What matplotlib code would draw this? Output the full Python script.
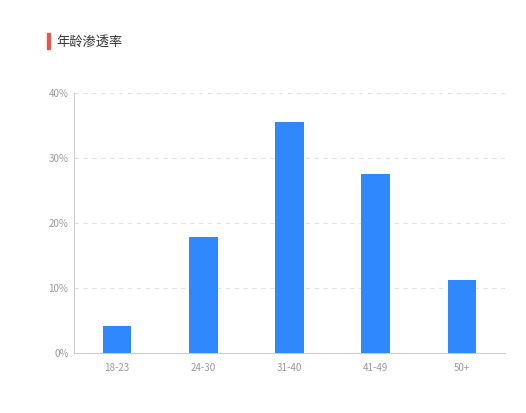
import matplotlib.pyplot as plt
import numpy as np

plt.rcParams['font.family'] = ['Noto Sans CJK SC', 'DejaVu Sans']

# age groups and penetration rate (%)
ages = ['18-23', '24-30', '31-40', '41-49', '50+']
rates = [4.1, 17.9, 35.6, 27.6, 11.3]
yticks = [0, 10, 20, 30, 40]

fig = plt.figure(figsize=(5.26, 4.13), dpi=100)
ax = fig.add_axes([0.1407, 0.1453, 0.8193, 0.6295])

x = np.arange(len(ages))
ax.bar(x, rates, width=0.33, color='#2f89fc', zorder=3)

ax.set_xlim(-0.5, len(ages) - 0.5)
ax.set_ylim(0, 40)
ax.set_xticks(x)
ax.set_xticklabels(ages)
ax.set_yticks(yticks)
ax.set_yticklabels([f'{v}%' for v in yticks])
ax.tick_params(axis='both', length=0, labelsize=7, colors='#999999')
ax.tick_params(axis='x', pad=7)
ax.tick_params(axis='y', pad=4)

for v in yticks[1:]:
    ax.axhline(v, color='#e3e3e3', linestyle=(0, (4, 4)), linewidth=0.8, zorder=1)

for s in ['top', 'right']:
    ax.spines[s].set_visible(False)
ax.spines['left'].set_color('#cccccc')
ax.spines['bottom'].set_color('#cccccc')

# title with red marker
fig.patches.append(plt.Rectangle((47 / 526, 1 - 49 / 413), 3 / 526, 16 / 413,
                                 transform=fig.transFigure, color='#e8564f'))
fig.text(56 / 526, 1 - 42 / 413, '年龄渗透率', fontsize=9.5, color='#333333', va='center')

fig.savefig('out.png', dpi=100)
